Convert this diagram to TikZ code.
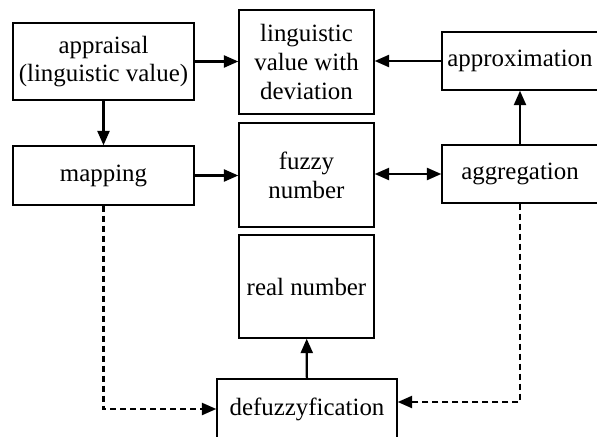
\documentclass[tikz,border=0pt]{standalone}
\usepackage{fontspec}
\setmainfont{Liberation Serif}
\usetikzlibrary{arrows.meta}

\begin{document}
\begin{tikzpicture}[
  stepbox/.style={draw, line width=1pt, align=center, inner sep=0pt,
    font=\fontsize{17.7}{20.5}\selectfont},
  flow/.style={line width=1.6pt, -{Triangle[length=0.36cm, width=0.3cm]}},
  both/.style={line width=1.6pt, {Triangle[length=0.36cm, width=0.3cm]}-{Triangle[length=0.36cm, width=0.3cm]}},
  back/.style={flow, dash pattern=on 0.15cm off 0.1cm},
]
  \clip (0, 0) rectangle (14.925, 10.9);

  % left column
  \node[stepbox, minimum width=4.525cm, minimum height=1.925cm]
    (appraisal) at (2.5875, 9.3625) {appraisal\\(linguistic value)};
  \node[stepbox, minimum width=4.525cm, minimum height=1.475cm]
    (mapping) at (2.5875, 6.5125) {mapping};

  % middle column
  \node[stepbox, minimum width=3.375cm, minimum height=2.6cm]
    (lingval) at (7.6625, 9.35) {linguistic\\value with\\deviation};
  \node[stepbox, minimum width=3.375cm, minimum height=2.6cm]
    (fuzzy) at (7.6625, 6.525) {fuzzy\\number};
  \node[stepbox, minimum width=3.375cm, minimum height=2.575cm]
    (real) at (7.6625, 3.7375) {real number};
  \node[stepbox, minimum width=4.5cm, minimum height=1.5cm]
    (defuzz) at (7.675, 0.675) {defuzzyfication};

  % right column
  \node[stepbox, minimum width=3.9cm, minimum height=1.45cm]
    (approx) at (13.0, 9.375) {approximation};
  \node[stepbox, minimum width=3.9cm, minimum height=1.45cm]
    (aggr) at (13.0, 6.55) {aggregation};

  % solid arrows
  \draw[flow] (appraisal.east) -- (appraisal.east -| lingval.west);
  \draw[flow] (approx.west) -- (approx.west -| lingval.east);
  \draw[flow] (appraisal) -- (mapping);
  \draw[flow] (mapping.east) -- (mapping.east -| fuzzy.west);
  \draw[both] (aggr.west -| fuzzy.east) -- (aggr.west);
  \draw[flow] (aggr) -- (approx);
  \draw[flow] (defuzz) -- (real);

  % dashed arrows
  \draw[back] (mapping.south) |- (defuzz.west);
  \draw[back] (aggr.south) |- ([yshift=0.175cm]defuzz.east);
\end{tikzpicture}
\end{document}
